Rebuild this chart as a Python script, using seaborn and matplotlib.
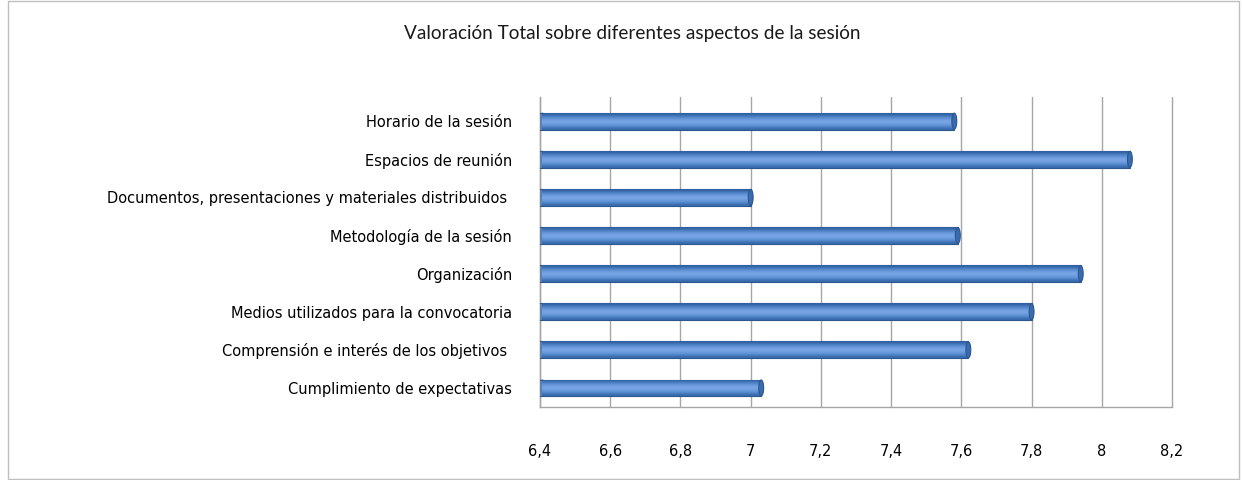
import matplotlib
matplotlib.use("Agg")
import matplotlib.pyplot as plt
import matplotlib.patches as mpatches
import numpy as np
import pandas as pd
import seaborn as sns

# data
aspectos = [
    "Horario de la sesión",
    "Espacios de reunión",
    "Documentos, presentaciones y materiales distribuidos ",
    "Metodología de la sesión",
    "Organización",
    "Medios utilizados para la convocatoria",
    "Comprensión e interés de los objetivos ",
    "Cumplimiento de expectativas",
]
valoracion = [7.58, 8.08, 7.00, 7.59, 7.94, 7.80, 7.62, 7.03]
x_ticks = [6.4, 6.6, 6.8, 7.0, 7.2, 7.4, 7.6, 7.8, 8.0, 8.2]
x_tick_labels = ["6,4", "6,6", "6,8", "7", "7,2", "7,4", "7,6", "7,8", "8", "8,2"]

df = pd.DataFrame({"aspecto": aspectos, "valor": valoracion})

sns.set_style("white")
plt.rcParams["font.family"] = ["DejaVu Sans"]

fig = plt.figure(figsize=(12.42, 4.8), dpi=100)
ax = fig.add_axes([540 / 1242, 1 - 407 / 480, 632 / 1242, 310 / 480])

sns.barplot(data=df, x="valor", y="aspecto", orient="h", color="#4F81BD",
            width=0.44, edgecolor="#2B578F", linewidth=0.8, ax=ax, zorder=3)

xmin, xmax = 6.4, 8.2

# fake cylinder shading on each bar
grad = np.array([0.0, 0.35, 0.7, 1.0, 0.8, 0.45, 0.1]).reshape(-1, 1)
cmap = matplotlib.colors.LinearSegmentedColormap.from_list(
    "cyl", ["#2E5E9E", "#5B8FD6", "#7BA8E6"])
for p in ax.patches:
    x0, y0 = p.get_x(), p.get_y()
    w, h = p.get_width(), p.get_height()
    im = ax.imshow(grad, cmap=cmap, aspect="auto",
                   extent=[xmin + 0.005, x0 + w, y0 + h, y0],
                   zorder=4, interpolation="bicubic")
    im.set_clip_path(p)
    ax.add_patch(mpatches.Ellipse((x0 + w, y0 + h / 2), 0.014, h * 0.95,
                                  facecolor="#3A6BAE", edgecolor="#2B578F",
                                  linewidth=0.8, zorder=5))
    ax.add_patch(mpatches.Ellipse((xmin + 0.007, y0 + h / 2), 0.014, h * 0.95,
                                  facecolor="#5B8FD6", edgecolor="#2B578F",
                                  linewidth=0.8, zorder=2))
ax.set_xlim(xmin, xmax)
ax.set_ylim(7.228, -0.634)

ax.set_xticks(x_ticks)
ax.set_xticklabels(x_tick_labels, fontsize=10.5, color="black")
ax.tick_params(axis="x", length=0, pad=27)
ax.tick_params(axis="y", length=0, pad=20, labelsize=10.5, labelcolor="black")
ax.set_yticks(np.arange(-0.5, 8, 1), minor=True)
ax.tick_params(axis="y", which="minor", length=4, color="#A0A0A0", direction="out")

ax.xaxis.grid(True, color="#A6A6A6", linewidth=1)
for gl in ax.get_xgridlines():
    gl.set_clip_on(False)
ax.set_axisbelow(True)
for s in ["top", "right"]:
    ax.spines[s].set_visible(False)
for s in ["left", "bottom"]:
    ax.spines[s].set_color("#A6A6A6")
    ax.spines[s].set_linewidth(1)

ax.set_xlabel("")
ax.set_ylabel("")

fig.text(632 / 1242, 1 - 33 / 480, "Valoración Total sobre diferentes aspectos de la sesión",
         ha="center", va="center", fontsize=13.7, family=["Lato", "DejaVu Sans"],
         color="#1A1A1A")

# outer chart frame
fig.patches.append(mpatches.Rectangle((8 / 1242, 0.002), 1231 / 1242, 0.996,
                                      transform=fig.transFigure, fill=False,
                                      edgecolor="#BFBFBF", linewidth=1))

fig.savefig("out.png", dpi=100)
